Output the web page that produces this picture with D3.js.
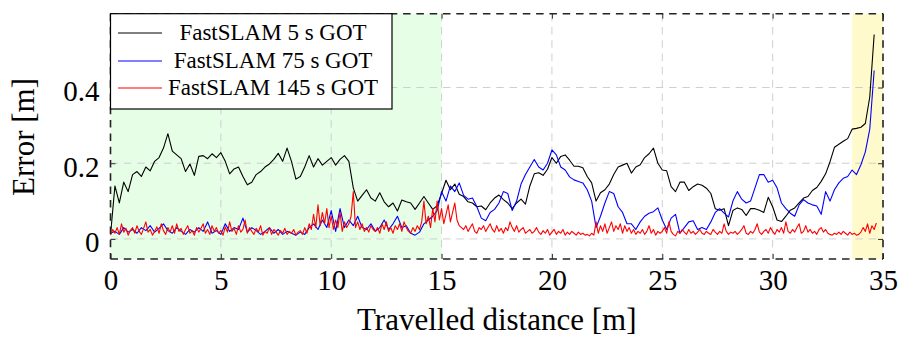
<!DOCTYPE html>
<html>
<head>
<meta charset="utf-8">
<script src="https://cdn.jsdelivr.net/npm/d3@7"></script>
<style>
  body { margin: 0; background: #fff; }
  svg { display: block; }
  svg text { font-family: "Liberation Serif", "Times New Roman", serif !important; fill: #000; }
</style>
</head>
<body>
<svg id="chart" width="899" height="338"></svg>
<script>
// Axis ticks and labels
const xTicks = [0, 5, 10, 15, 20, 25, 30, 35];
const yTicks = [0, 0.2, 0.4];
const yTickLabels = ["0", "0.2", "0.4"];
const xLabel = "Travelled distance [m]";
const yLabel = "Error [m]";

// Shaded stretches of the run [m]
const greenZone = [0, 15];
const yellowZone = [33.6, 35];

// Series: name, colour, sampling step along the path [m]
const seriesNames = ["FastSLAM 5 s GOT", "FastSLAM 75 s GOT", "FastSLAM 145 s GOT"];
const seriesColors = ["#000000", "#0000ff", "#ff0000"];
const seriesSteps = [0.2, 0.2, 0.1];

// Error [m], FastSLAM with 5 s GOT (one value every 0.2 m)
const err5 = [
  0.010,0.140,0.095,0.150,0.125,0.170,0.178,0.165,0.190,0.180,
  0.205,0.215,0.240,0.278,0.232,0.222,0.212,0.178,0.198,0.168,
  0.218,0.220,0.212,0.225,0.215,0.228,0.205,0.172,0.185,0.190,
  0.165,0.143,0.150,0.170,0.178,0.190,0.198,0.210,0.226,0.205,
  0.240,0.205,0.158,0.165,0.190,0.220,0.190,0.212,0.195,0.205,
  0.215,0.195,0.210,0.220,0.205,0.135,0.100,0.115,0.130,0.108,
  0.100,0.122,0.098,0.085,0.095,0.074,0.103,0.098,0.095,0.078,
  0.095,0.112,0.095,0.078,0.088,0.120,0.155,0.130,0.145,0.118,
  0.112,0.098,0.095,0.085,0.087,0.077,0.095,0.108,0.116,0.104,
  0.095,0.080,0.095,0.105,0.092,0.140,0.172,0.175,0.168,0.184,
  0.215,0.200,0.218,0.222,0.208,0.192,0.192,0.188,0.165,0.148,
  0.100,0.122,0.130,0.145,0.170,0.190,0.195,0.200,0.174,0.190,
  0.196,0.215,0.225,0.240,0.200,0.182,0.180,0.138,0.125,0.150,
  0.150,0.128,0.138,0.145,0.142,0.134,0.120,0.080,0.076,0.080,
  0.035,0.075,0.082,0.078,0.062,0.080,0.080,0.076,0.070,0.110,
  0.085,0.050,0.046,0.060,0.076,0.082,0.095,0.108,0.112,0.128,
  0.136,0.152,0.172,0.204,0.242,0.250,0.258,0.265,0.290,0.292,
  0.295,0.305,0.375,0.540
];

// Error [m], FastSLAM with 75 s GOT (one value every 0.2 m)
const err75 = [
  0.015,0.020,0.012,0.030,0.018,0.025,0.015,0.030,0.022,0.035,
  0.018,0.028,0.040,0.022,0.015,0.030,0.020,0.012,0.025,0.018,
  0.030,0.020,0.045,0.015,0.022,0.012,0.040,0.020,0.030,0.025,
  0.055,0.018,0.030,0.022,0.012,0.020,0.030,0.015,0.025,0.012,
  0.020,0.015,0.010,0.018,0.012,0.030,0.040,0.025,0.050,0.030,
  0.075,0.020,0.080,0.030,0.050,0.035,0.060,0.030,0.025,0.040,
  0.020,0.030,0.050,0.025,0.040,0.060,0.030,0.035,0.015,0.010,
  0.018,0.040,0.050,0.060,0.075,0.125,0.100,0.140,0.125,0.148,
  0.115,0.105,0.108,0.085,0.055,0.048,0.070,0.078,0.095,0.125,
  0.120,0.075,0.100,0.145,0.170,0.190,0.210,0.190,0.182,0.200,
  0.235,0.222,0.190,0.182,0.164,0.156,0.152,0.148,0.130,0.100,
  0.030,0.060,0.095,0.125,0.120,0.085,0.070,0.040,0.040,0.025,
  0.045,0.060,0.068,0.072,0.082,0.050,0.025,0.055,0.065,0.015,
  0.030,0.045,0.048,0.025,0.030,0.025,0.045,0.070,0.080,0.068,
  0.058,0.100,0.125,0.105,0.095,0.100,0.135,0.170,0.170,0.150,
  0.155,0.135,0.095,0.080,0.068,0.060,0.090,0.104,0.095,0.090,
  0.087,0.065,0.125,0.100,0.130,0.148,0.160,0.165,0.182,0.170,
  0.196,0.230,0.290,0.445
];

// Error [m], FastSLAM with 145 s GOT (one value every 0.1 m)
const err145 = [
  0.010,0.025,0.015,0.030,0.012,0.040,0.018,0.028,0.010,0.022,
  0.030,0.015,0.035,0.020,0.012,0.028,0.045,0.018,0.025,0.010,
  0.020,0.032,0.015,0.040,0.022,0.012,0.030,0.018,0.035,0.015,
  0.040,0.020,0.028,0.012,0.025,0.035,0.015,0.022,0.010,0.030,
  0.018,0.028,0.040,0.015,0.025,0.012,0.035,0.020,0.030,0.015,
  0.022,0.010,0.032,0.018,0.045,0.020,0.028,0.012,0.035,0.018,
  0.025,0.050,0.015,0.030,0.020,0.012,0.028,0.018,0.035,0.010,
  0.020,0.015,0.030,0.012,0.025,0.018,0.010,0.022,0.015,0.028,
  0.012,0.020,0.015,0.025,0.010,0.018,0.022,0.012,0.030,0.015,
  0.040,0.025,0.065,0.030,0.090,0.035,0.070,0.040,0.080,0.030,
  0.060,0.025,0.050,0.030,0.070,0.020,0.045,0.030,0.040,0.060,
  0.125,0.030,0.045,0.025,0.040,0.020,0.030,0.018,0.035,0.025,
  0.020,0.030,0.015,0.040,0.025,0.045,0.020,0.030,0.015,0.035,
  0.025,0.040,0.020,0.045,0.030,0.020,0.015,0.030,0.020,0.035,
  0.025,0.045,0.100,0.040,0.060,0.030,0.080,0.045,0.100,0.050,
  0.080,0.040,0.065,0.090,0.045,0.070,0.095,0.050,0.035,0.030,
  0.025,0.035,0.020,0.030,0.040,0.020,0.015,0.030,0.025,0.035,
  0.020,0.030,0.040,0.025,0.018,0.035,0.020,0.028,0.015,0.030,
  0.022,0.045,0.030,0.020,0.035,0.018,0.025,0.030,0.015,0.020,
  0.025,0.015,0.020,0.030,0.018,0.012,0.022,0.015,0.025,0.010,
  0.018,0.025,0.012,0.020,0.015,0.025,0.010,0.018,0.012,0.020,
  0.015,0.010,0.018,0.012,0.015,0.010,0.012,0.008,0.015,0.010,
  0.045,0.015,0.035,0.020,0.040,0.015,0.030,0.045,0.020,0.035,
  0.025,0.040,0.015,0.035,0.020,0.030,0.015,0.025,0.012,0.020,
  0.015,0.025,0.012,0.020,0.035,0.015,0.025,0.010,0.020,0.015,
  0.020,0.030,0.015,0.045,0.020,0.012,0.008,0.020,0.015,0.025,
  0.018,0.012,0.025,0.015,0.020,0.012,0.018,0.025,0.015,0.012,
  0.020,0.015,0.012,0.025,0.018,0.012,0.020,0.015,0.040,0.020,
  0.012,0.018,0.015,0.020,0.012,0.018,0.025,0.035,0.015,0.012,
  0.020,0.015,0.025,0.040,0.018,0.012,0.020,0.025,0.015,0.030,
  0.020,0.012,0.025,0.018,0.030,0.015,0.045,0.020,0.015,0.025,
  0.018,0.030,0.040,0.015,0.020,0.035,0.018,0.025,0.015,0.020,
  0.012,0.025,0.030,0.018,0.025,0.015,0.012,0.010,0.015,0.012,
  0.018,0.012,0.020,0.015,0.010,0.018,0.012,0.015,0.010,0.012,
  0.018,0.030,0.020,0.040,0.015,0.035,0.025,0.042
];

const seriesValues = [err5, err75, err145];

// ---- layout ----
const SERIF = '"Liberation Serif", "Times New Roman", serif';
const svg = d3.select("#chart");
const plot = { left: 110.5, right: 883, top: 13.7, bottom: 259 };

const x = d3.scaleLinear().domain([0, 35]).range([plot.left, plot.right]);
const y = d3.scaleLinear().domain([-0.053, 0.595]).range([plot.bottom, plot.top]);

const dash = "7.5,5.8";

// shaded zones
[[greenZone, "#e6fde6"], [yellowZone, "#fffacc"]].forEach(([z, c]) => {
  svg.append("rect")
    .attr("x", x(z[0])).attr("y", plot.top)
    .attr("width", x(z[1]) - x(z[0])).attr("height", plot.bottom - plot.top)
    .attr("fill", c);
});

// grid
const grid = svg.append("g").attr("stroke", "#cfcfcf").attr("stroke-width", 1)
  .attr("stroke-dasharray", dash).attr("fill", "none");
xTicks.filter(t => t > 0 && t < 35).forEach(t => {
  grid.append("line").attr("x1", x(t)).attr("x2", x(t))
    .attr("y1", plot.top).attr("y2", plot.bottom);
});
yTicks.forEach(t => {
  grid.append("line").attr("x1", plot.left).attr("x2", plot.right)
    .attr("y1", y(t)).attr("y2", y(t));
});

// data
svg.append("clipPath").attr("id", "clip").append("rect")
  .attr("x", plot.left).attr("y", plot.top)
  .attr("width", plot.right - plot.left).attr("height", plot.bottom - plot.top);

const lineGen = step => d3.line()
  .x((d, i) => x(i * step))
  .y(d => y(d));

const dataG = svg.append("g").attr("clip-path", "url(#clip)");
seriesValues.forEach((vals, k) => {
  dataG.append("path")
    .datum(vals)
    .attr("d", lineGen(seriesSteps[k]))
    .attr("fill", "none")
    .attr("stroke", seriesColors[k])
    .attr("stroke-width", 1.1)
    .attr("stroke-linejoin", "round");
});

// axes (inward ticks)
const tickFont = "29px";
const axB = svg.append("g").attr("transform", `translate(0,${plot.bottom})`)
  .call(d3.axisBottom(x).tickValues(xTicks).tickFormat(d3.format("d"))
    .tickSize(-5).tickPadding(10));
const axT = svg.append("g").attr("transform", `translate(0,${plot.top})`)
  .call(d3.axisTop(x).tickValues(xTicks).tickFormat("").tickSize(-5));
const axL = svg.append("g").attr("transform", `translate(${plot.left},0)`)
  .call(d3.axisLeft(y).tickValues(yTicks).tickFormat((d, i) => yTickLabels[i])
    .tickSize(-5).tickPadding(11));
const axR = svg.append("g").attr("transform", `translate(${plot.right},0)`)
  .call(d3.axisRight(y).tickValues(yTicks).tickFormat("").tickSize(-5));

[axB, axT, axL, axR].forEach(g => {
  g.attr("font-family", null).attr("font-size", null);
  g.select(".domain").remove();
  g.selectAll(".tick line").attr("stroke", "#333").attr("stroke-width", 1);
  g.selectAll("text").style("font-family", SERIF).style("font-size", tickFont)
    .attr("fill", "#000");
});
axL.selectAll("text").attr("dy", "0.45em");

// dashed frame
const frame = svg.append("g").attr("stroke", "#222").attr("stroke-width", 1.6)
  .attr("stroke-dasharray", dash).attr("fill", "none");
frame.append("line").attr("x1", plot.left).attr("x2", plot.right).attr("y1", plot.top).attr("y2", plot.top);
frame.append("line").attr("x1", plot.left).attr("x2", plot.right).attr("y1", plot.bottom).attr("y2", plot.bottom);
frame.append("line").attr("x1", plot.left).attr("x2", plot.left).attr("y1", plot.top).attr("y2", plot.bottom);
frame.append("line").attr("x1", plot.right).attr("x2", plot.right).attr("y1", plot.top).attr("y2", plot.bottom);

// axis titles
svg.append("text")
  .attr("x", (plot.left + plot.right) / 2).attr("y", 330)
  .attr("text-anchor", "middle").style("font-family", SERIF).style("font-size", "31px")
  .text(xLabel);
svg.append("text")
  .attr("transform", `translate(34,137) rotate(-90)`)
  .attr("text-anchor", "middle").style("font-family", SERIF).style("font-size", "31px")
  .text(yLabel);

// legend
const legend = svg.append("g");
legend.append("rect")
  .attr("x", plot.left).attr("y", plot.top)
  .attr("width", 392 - plot.left).attr("height", 109 - plot.top)
  .attr("fill", "#fff").attr("stroke", "#000").attr("stroke-width", 1.2);
const rowY = [33, 61, 88];
seriesNames.forEach((name, k) => {
  legend.append("line")
    .attr("x1", 118).attr("x2", 162).attr("y1", rowY[k]).attr("y2", rowY[k])
    .attr("stroke", seriesColors[k]).attr("stroke-width", 1.1);
  legend.append("text")
    .attr("x", 273).attr("y", rowY[k] + 7)
    .attr("text-anchor", "middle").style("font-family", SERIF).style("font-size", "23px")
    .text(name);
});
</script>
</body>
</html>
